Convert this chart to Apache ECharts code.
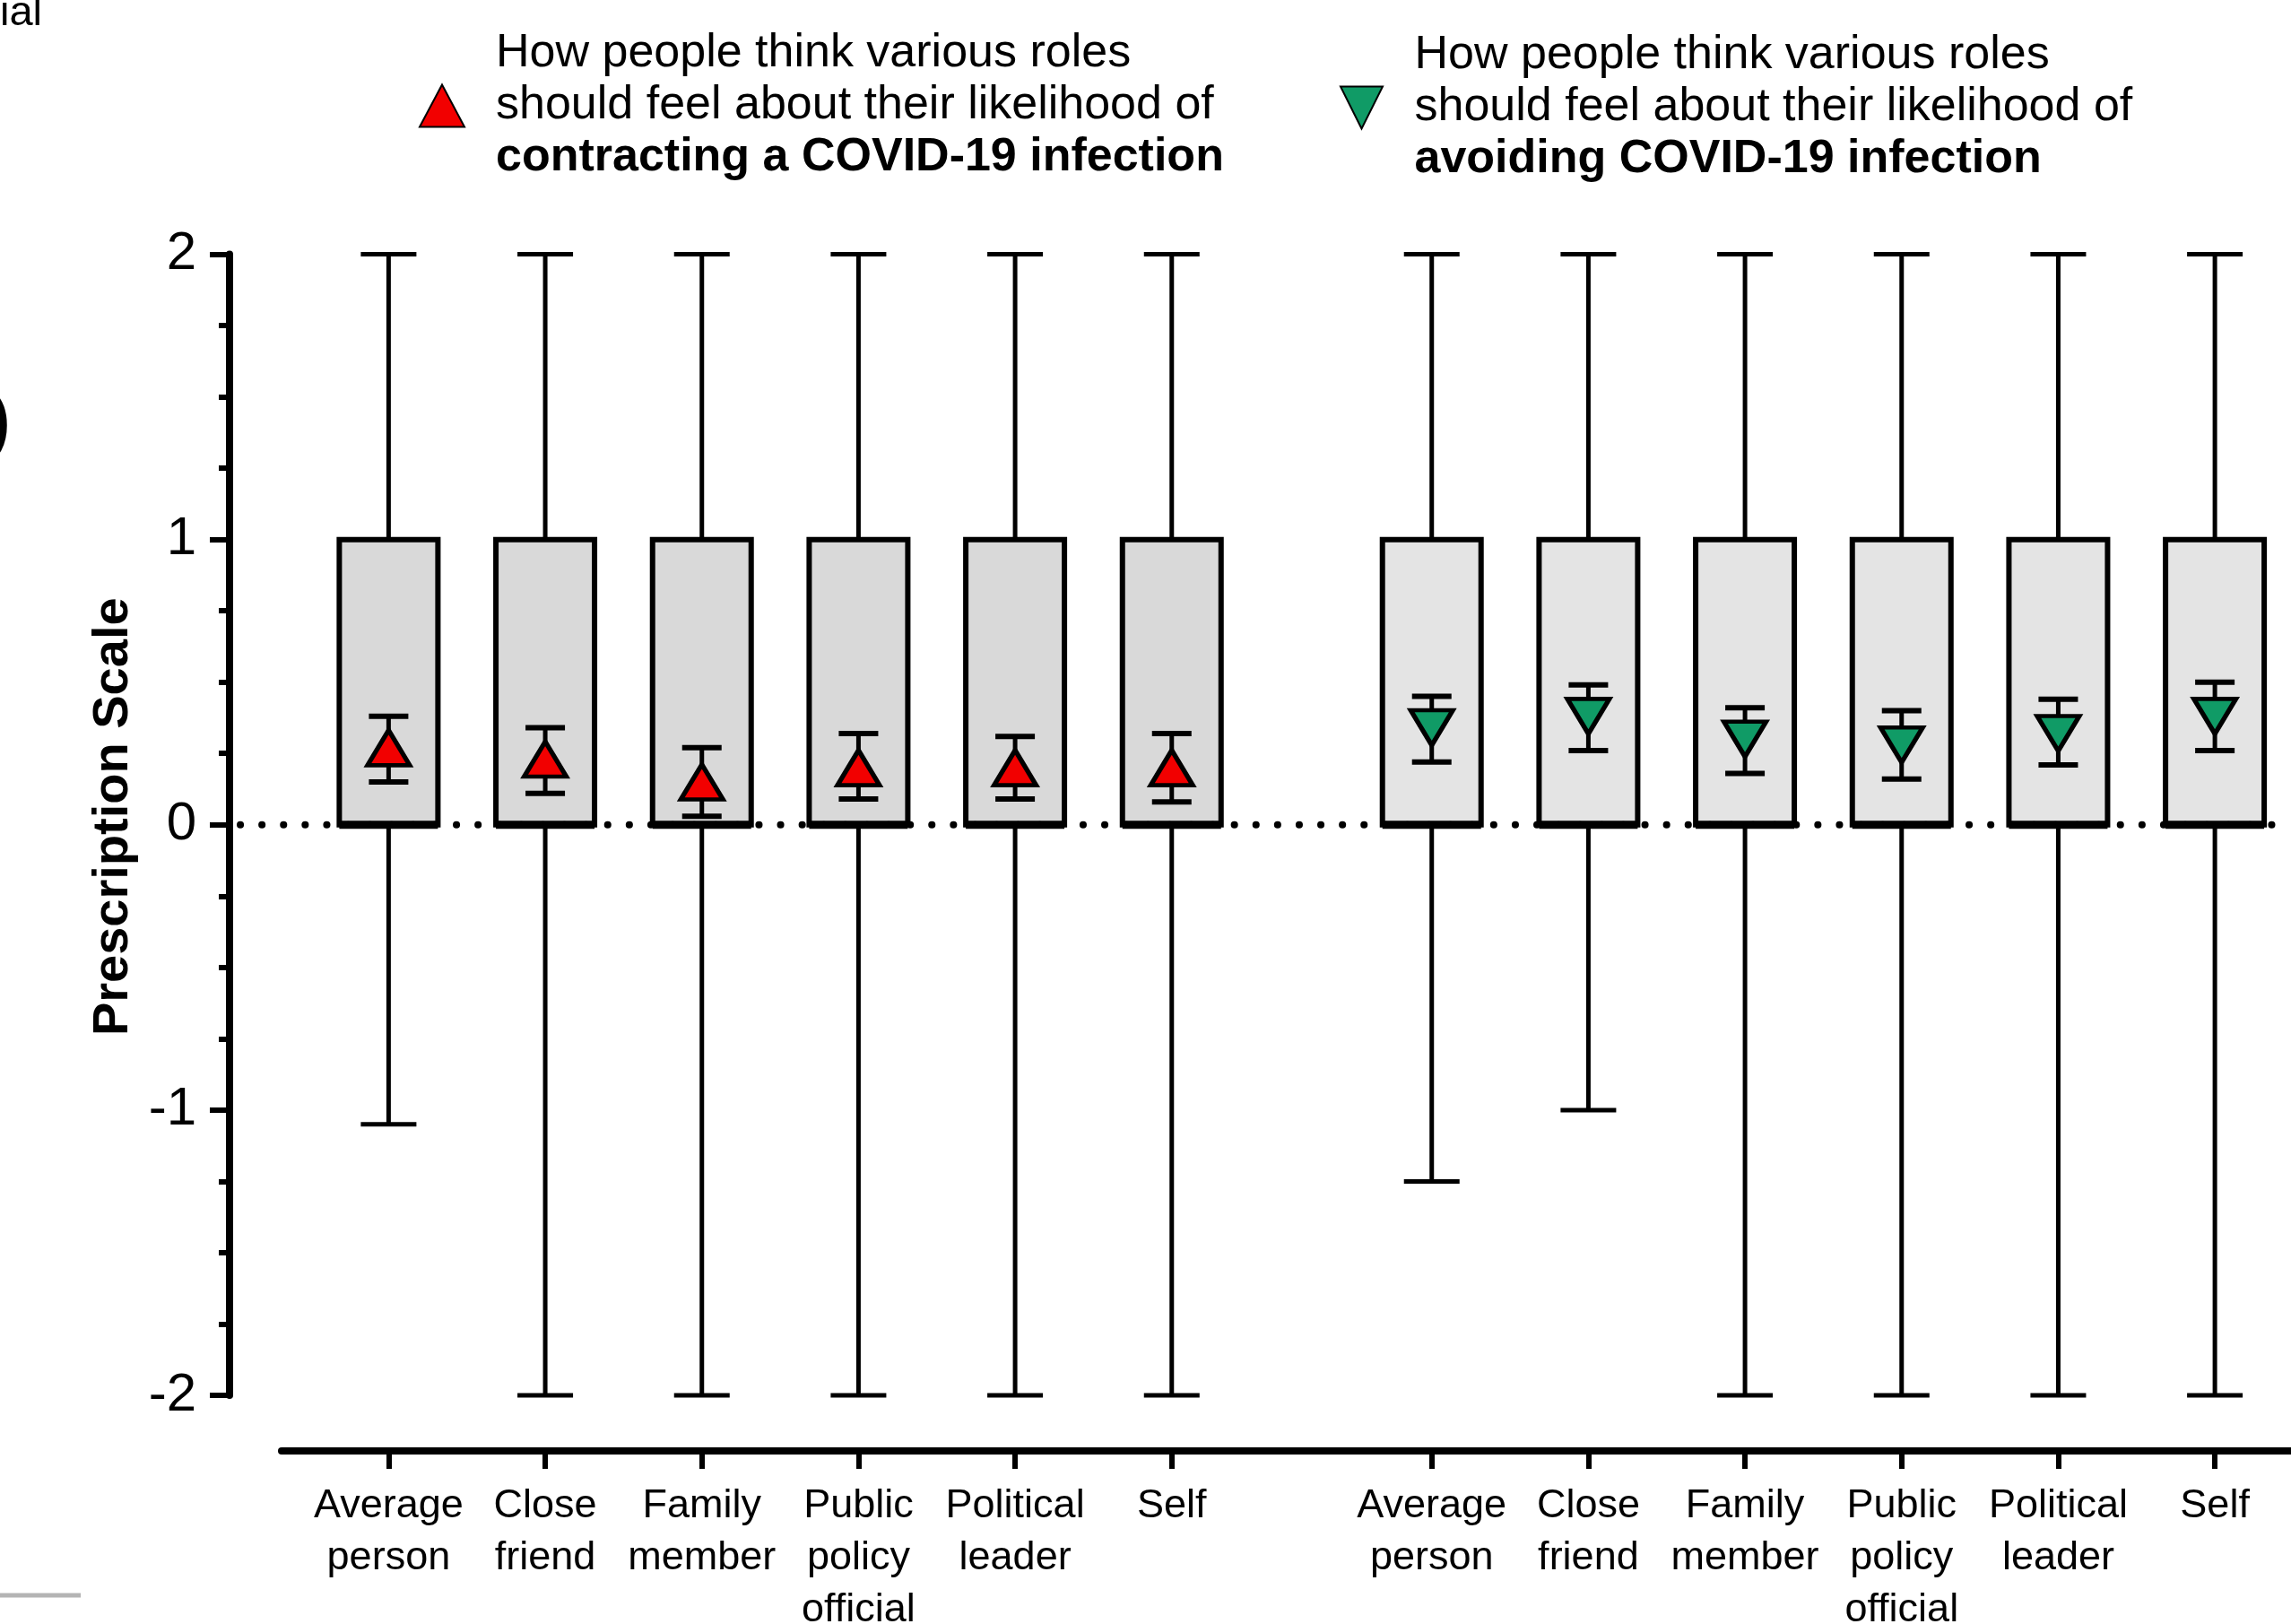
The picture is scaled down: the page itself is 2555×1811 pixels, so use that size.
<!DOCTYPE html>
<html>
<head>
<meta charset="utf-8">
<script src="https://cdn.jsdelivr.net/npm/echarts@6/dist/echarts.min.js"></script>
<style>
  html, body { margin: 0; padding: 0; background: #fff; overflow: hidden; }
  #chart { width: 2555px; height: 1811px; }
</style>
</head>
<body>
<div id="chart"></div>
<script>
// Role categories (tick labels, shared by both panels)
const roleLabels = ['Average\nperson', 'Close\nfriend', 'Family\nmember', 'Public\npolicy\nofficial', 'Political\nleader', 'Self'];

// Box-and-whisker summaries: contracting a COVID-19 infection
const contractMin = [-1.05, -2, -2, -2, -2, -2];
const contractQ1 = [0, 0, 0, 0, 0, 0];
const contractMedian = [0, 0, 0, 0, 0, 0];
const contractQ3 = [1, 1, 1, 1, 1, 1];
const contractMax = [2, 2, 2, 2, 2, 2];

// Box-and-whisker summaries: avoiding COVID-19 infection
const avoidMin = [-1.25, -1, -2, -2, -2, -2];
const avoidQ1 = [0, 0, 0, 0, 0, 0];
const avoidMedian = [0, 0, 0, 0, 0, 0];
const avoidQ3 = [1, 1, 1, 1, 1, 1];
const avoidMax = [2, 2, 2, 2, 2, 2];

// Means with confidence intervals
const contractMean = [0.27, 0.23, 0.15, 0.20, 0.20, 0.20];
const contractLow = [0.15, 0.11, 0.03, 0.09, 0.09, 0.08];
const contractHigh = [0.38, 0.34, 0.27, 0.32, 0.31, 0.32];

const avoidMean = [0.34, 0.38, 0.30, 0.28, 0.32, 0.38];
const avoidLow = [0.22, 0.26, 0.18, 0.16, 0.21, 0.26];
const avoidHigh = [0.45, 0.49, 0.41, 0.40, 0.44, 0.50];

// y-axis ticks
const yMin = -2, yMax = 2, yStep = 1;

// ---- layout helpers ----
const SECOND_PANEL_OFFSET = 6.66;   // slot offset of the second panel on the x scale
const contractPos = roleLabels.map((_, i) => i);
const avoidPos = roleLabels.map((_, i) => i + SECOND_PANEL_OFFSET);
const allPos = contractPos.concat(avoidPos);

const FONT = '"Liberation Sans", Arial, Helvetica, sans-serif';
const RED = '#f20000';
const GREEN = '#109b66';

function labelFor(v) {
  let best = 0, bestD = Infinity;
  allPos.forEach((p, k) => { const d = Math.abs(p - v); if (d < bestD) { bestD = d; best = k; } });
  return roleLabels[best % roleLabels.length];
}

const boxData = []
  .concat(contractPos.map((p, i) => [p, contractMin[i], contractQ1[i], contractMedian[i], contractQ3[i], contractMax[i], 0]))
  .concat(avoidPos.map((p, i) => [p, avoidMin[i], avoidQ1[i], avoidMedian[i], avoidQ3[i], avoidMax[i], 1]));

function renderBox(params, api) {
  const x = api.value(0);
  const pMin = api.coord([x, api.value(1)]);
  const pQ1 = api.coord([x, api.value(2)]);
  const pMed = api.coord([x, api.value(3)]);
  const pQ3 = api.coord([x, api.value(4)]);
  const pMax = api.coord([x, api.value(5)]);
  const fill = api.value(6) === 0 ? '#d9d9d9' : '#e4e4e4';
  const cx = pQ1[0];
  const halfBox = 55, halfCap = 31;
  const ln = { stroke: '#000', lineWidth: 5 };
  return {
    type: 'group',
    children: [
      { type: 'line', shape: { x1: cx, y1: pMax[1], x2: cx, y2: pQ3[1] }, style: ln },
      { type: 'line', shape: { x1: cx, y1: pQ1[1], x2: cx, y2: pMin[1] }, style: ln },
      { type: 'line', shape: { x1: cx - halfCap, y1: pMax[1], x2: cx + halfCap, y2: pMax[1] }, style: ln },
      { type: 'line', shape: { x1: cx - halfCap, y1: pMin[1], x2: cx + halfCap, y2: pMin[1] }, style: ln },
      { type: 'rect', shape: { x: cx - halfBox, y: pQ3[1], width: halfBox * 2, height: pQ1[1] - pQ3[1] },
        style: { fill: fill, stroke: '#000', lineWidth: 6 } },
      { type: 'line', shape: { x1: cx - halfBox, y1: pMed[1], x2: cx + halfBox, y2: pMed[1] },
        style: { stroke: '#000', lineWidth: 9 } }
    ]
  };
}

function renderErr(params, api) {
  const x = api.value(0);
  const lo = api.coord([x, api.value(1)]);
  const hi = api.coord([x, api.value(2)]);
  const cx = lo[0], half = 22;
  return {
    type: 'group',
    children: [
      { type: 'line', shape: { x1: cx, y1: lo[1], x2: cx, y2: hi[1] }, style: { stroke: '#000', lineWidth: 5 } },
      { type: 'line', shape: { x1: cx - half, y1: lo[1], x2: cx + half, y2: lo[1] }, style: { stroke: '#000', lineWidth: 6 } },
      { type: 'line', shape: { x1: cx - half, y1: hi[1], x2: cx + half, y2: hi[1] }, style: { stroke: '#000', lineWidth: 6 } }
    ]
  };
}

function renderZero(params, api) {
  const p = api.coord([api.value(0), api.value(1)]);
  const cs = params.coordSys;
  return {
    type: 'line',
    shape: { x1: cs.x - 46, y1: p[1], x2: cs.x + cs.width, y2: p[1] },
    style: { stroke: '#000', lineWidth: 8, lineDash: [0.1, 24], lineCap: 'round' }
  };
}

const legendRich = {
  n: { fontFamily: FONT, fontSize: 52, lineHeight: 58, color: '#000' },
  b: { fontFamily: FONT, fontSize: 52, lineHeight: 58, fontWeight: 'bold', color: '#000' }
};
const legendText = {
  contract: '{n|How people think various roles}\n{n|should feel about their likelihood of}\n{b|contracting a COVID-19 infection}',
  avoid: '{n|How people think various roles}\n{n|should feel about their likelihood of}\n{b|avoiding COVID-19 infection}'
};

const chart = echarts.init(document.getElementById('chart'), null, { renderer: 'canvas' });

chart.setOption({
  backgroundColor: '#fff',
  animation: false,
  textStyle: { fontFamily: FONT, color: '#000' },
  grid: { left: 314, right: 0, top: 283.5, bottom: 255, containLabel: false, outerBoundsMode: 'none' },
  legend: [
    {
      data: ['contract'], left: 462, top: 29, orient: 'horizontal',
      itemWidth: 50, itemHeight: 47, selectedMode: false,
      formatter: n => legendText[n],
      textStyle: { padding: [0, 0, 0, 30], rich: legendRich }
    },
    {
      data: ['avoid'], left: 1489, top: 31, orient: 'horizontal',
      itemWidth: 50, itemHeight: 47, selectedMode: false,
      formatter: n => legendText[n],
      textStyle: { padding: [0, 0, 0, 29], rich: legendRich }
    }
  ],
  xAxis: {
    type: 'value', min: -0.6835, max: 12.146, offset: 62,
    splitLine: { show: false },
    axisLine: { show: true, onZero: false, lineStyle: { color: '#000', width: 8 } },
    axisTick: { show: true, length: 20, customValues: allPos, lineStyle: { color: '#000', width: 6 } },
    axisLabel: {
      show: true, customValues: allPos, formatter: labelFor,
      fontFamily: FONT, fontSize: 45, lineHeight: 58, color: '#000', margin: 33, align: 'center'
    }
  },
  yAxis: {
    type: 'value', min: yMin, max: yMax, interval: yStep, offset: 58,
    name: 'Prescription Scale', nameLocation: 'middle', nameGap: 98, nameRotate: 90,
    nameTextStyle: { fontFamily: FONT, fontSize: 56, fontWeight: 'bold', color: '#000', padding: [0, 0, 0, 18] },
    splitLine: { show: false },
    axisLine: { show: true, onZero: false, lineStyle: { color: '#000', width: 8 } },
    axisTick: { show: true, length: 22, lineStyle: { color: '#000', width: 6 } },
    minorTick: { show: true, splitNumber: 4, length: 12, lineStyle: { color: '#000', width: 6 } },
    axisLabel: { fontFamily: FONT, fontSize: 60, color: '#000', margin: 37 }
  },
  series: [
    {
      name: 'boxes', type: 'custom', renderItem: renderBox, data: boxData, z: 2, clip: false,
      encode: { x: 0, y: [1, 2, 3, 4, 5] }
    },
    {
      name: 'zero', type: 'custom', renderItem: renderZero, data: [[0, 0]], z: 3, clip: false,
      encode: { x: 0, y: 1 }
    },
    {
      name: 'contractErr', type: 'custom', renderItem: renderErr, z: 4, clip: false,
      data: contractPos.map((p, i) => [p, contractLow[i], contractHigh[i]]),
      encode: { x: 0, y: [1, 2] }
    },
    {
      name: 'avoidErr', type: 'custom', renderItem: renderErr, z: 4, clip: false,
      data: avoidPos.map((p, i) => [p, avoidLow[i], avoidHigh[i]]),
      encode: { x: 0, y: [1, 2] }
    },
    {
      name: 'contract', type: 'scatter', z: 5,
      symbol: 'triangle', symbolSize: [47, 39],
      itemStyle: { color: RED, borderColor: '#000', borderWidth: 5, opacity: 1 },
      data: contractPos.map((p, i) => [p, contractMean[i]])
    },
    {
      name: 'avoid', type: 'scatter', z: 5,
      symbol: 'path://M0,0L10,0L5,10Z', symbolKeepAspect: false, symbolSize: [47, 39],
      itemStyle: { color: GREEN, borderColor: '#000', borderWidth: 5, opacity: 1 },
      data: avoidPos.map((p, i) => [p, avoidMean[i]])
    }
  ],
  graphic: [
    { type: 'text', x: 0, y: -8, style: { text: 'ial', font: '47px ' + FONT, fill: '#000', verticalAlign: 'top' } },
    { type: 'text', x: 14, y: 486, style: { text: 'D', font: 'bold 150px ' + FONT, fill: '#000', align: 'right', verticalAlign: 'middle' } },
    { type: 'line', shape: { x1: 0, y1: 1779, x2: 90, y2: 1779 }, style: { stroke: '#b4b4b4', lineWidth: 5 } }
  ]
});
</script>
</body>
</html>
